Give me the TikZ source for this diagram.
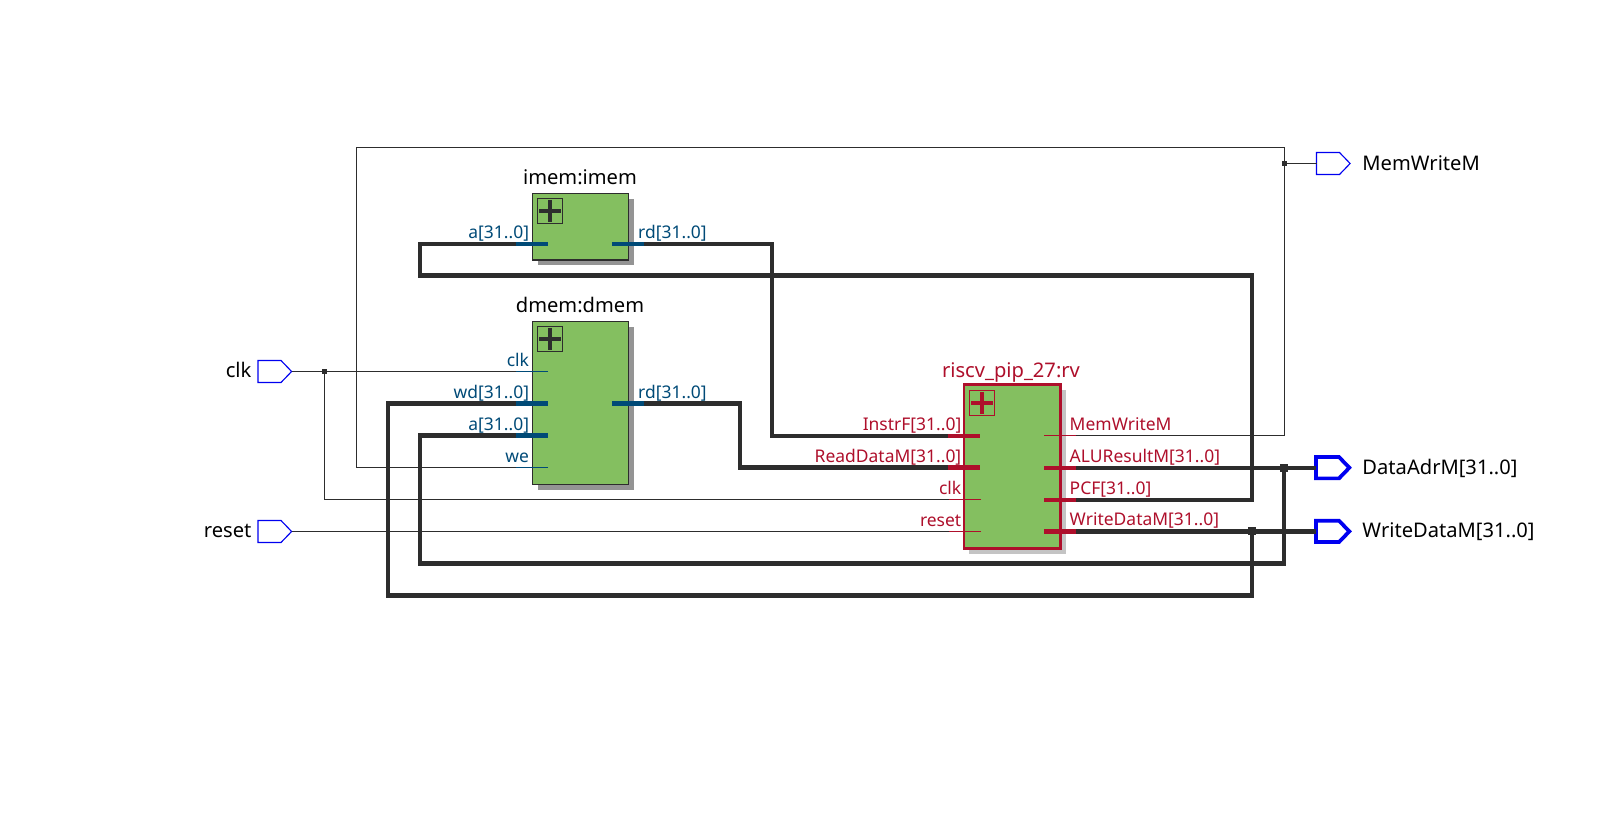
\documentclass[tikz,border=0pt]{standalone}
\usepackage{fontspec}
\setmainfont{Noto Sans}
\usetikzlibrary{shapes.symbols,shadows}
\definecolor{wirecol}{HTML}{2D2D2D}
\definecolor{portblue}{HTML}{004A77}
\definecolor{portred}{HTML}{AE0F2B}
\definecolor{blockgreen}{HTML}{84BF60}
\definecolor{pinblue}{HTML}{0000F0}
\tikzset{
  thinwire/.style={draw=wirecol,line width=0.75pt,line join=miter},
  buswire/.style={draw=wirecol,line width=3.2pt,line join=miter},
  junction/.style={fill=wirecol,draw=none,minimum size=3.8pt,inner sep=0pt,outer sep=0pt,shape=rectangle},
  busjunction/.style={junction,minimum size=6pt},
  block/.style={shape=rectangle,fill=blockgreen,inner sep=0pt,outer sep=0pt},
  memblock/.style={block,draw=wirecol,line width=0.8pt,general shadow={fill=black!42,draw=none,shadow xshift=4.1pt,shadow yshift=-4.1pt}},
  cpublock/.style={block,draw=portred,line width=1.9pt,general shadow={fill=black!23,draw=none,shadow xshift=4.1pt,shadow yshift=-4.1pt}},
  expander/.style={shape=rectangle,draw=#1,line width=0.7pt,minimum size=19pt,inner sep=0pt,outer sep=0pt,
    path picture={
      \draw[#1,line width=3pt] ([xshift=1.3pt]path picture bounding box.west) -- ([xshift=-1.3pt]path picture bounding box.east);
      \draw[#1,line width=3pt] ([yshift=-1.3pt]path picture bounding box.north) -- ([yshift=1.3pt]path picture bounding box.south);
    }},
  pinbase/.style={shape=signal,signal to=east,signal from=nowhere,signal pointer angle=92,
    minimum width=25.2pt,minimum height=16.5pt,inner sep=0pt,outer sep=0pt,draw=pinblue},
  thinpin/.style={pinbase,line width=0.85pt},
  buspin/.style={pinbase,line width=2.8pt,minimum width=25pt,minimum height=16pt},
  portbus/.style={line width=3.2pt},
  portthin/.style={line width=0.75pt},
  title/.style={anchor=base,font=\fontsize{15.1pt}{18pt}\selectfont,inner sep=0pt,text=#1,yshift=-0.7pt},
  title/.default=black,
  pinlabel/.style={font=\fontsize{15.1pt}{18pt}\selectfont,inner sep=0pt,text=black,yshift=-0.7pt},
  leftlabel/.style={anchor=base east,font=\fontsize{13.1pt}{16pt}\selectfont,inner sep=0pt,text=#1,yshift=-0.7pt,xshift=0.6pt},
  rightlabel/.style={anchor=base west,font=\fontsize{13.1pt}{16pt}\selectfont,inner sep=0pt,text=#1,yshift=-0.7pt,xshift=-0.4pt},
}
\begin{document}
\begin{tikzpicture}[x=0.75pt,y=-0.75pt]
\useasboundingbox (0,-0.2) rectangle (1605,834.8);

% port end points on the block boundaries
\coordinate (imemA) at (516,243.5);
\coordinate (imemRd) at (644,243.5);
\coordinate (dmemClk) at (548,371.3);
\coordinate (dmemWd) at (516,403.2);
\coordinate (dmemA) at (516,435.2);
\coordinate (dmemWe) at (548,467.3);
\coordinate (dmemRd) at (644,403.2);
\coordinate (cpuInstr) at (948,435.5);
\coordinate (cpuRead) at (948,467.2);
\coordinate (cpuClk) at (981,499.3);
\coordinate (cpuReset) at (981,531.3);
\coordinate (cpuMem) at (1076,435.3);
\coordinate (cpuAlu) at (1076,467.5);
\coordinate (cpuPc) at (1076,499.8);
\coordinate (cpuWrite) at (1076,531.2);

% top-level input and output pins
\node[thinpin] (pinClk) at (269.5,371.3) {};
\node[thinpin] (pinReset) at (269.5,531.3) {};
\node[thinpin] (pinMem) at (1328,163.3) {};
\node[buspin] (pinAdr) at (1327.5,467.5) {};
\node[buspin] (pinWrite) at (1327.5,531.2) {};

% junction dots
\node[junction] (jClk) at (324.5,371.3) {};
\node[junction] (jMem) at (1284.5,163.3) {};
\node[busjunction] (jAdr) at (1284,467.5) {};
\node[busjunction] (jWrite) at (1252,531.2) {};

% single-bit nets
\draw[thinwire] (pinClk.east) -- (dmemClk);
\draw[thinwire] (jClk) |- (cpuClk);
\draw[thinwire] (pinReset.east) -- (cpuReset);
\draw[thinwire] (cpuMem) -| (1284.5,147.3) -| (356.5,467.3) -- (dmemWe);
\draw[thinwire] (jMem) -- (pinMem.west);

% bus nets, drawn beneath the blocks
\draw[buswire] (imemRd) -| (772,435.5) -- (cpuInstr);
\draw[buswire] (cpuPc) -| (1252,275.2) -| (420,243.5) -- (imemA);
\draw[buswire] (dmemRd) -| (740,467.2) -- (cpuRead);
\draw[buswire] (cpuAlu) -- (pinAdr.west);
\draw[buswire] (jAdr) |- (420,563.2) |- (dmemA);
\draw[buswire] (cpuWrite) -- (pinWrite.west);
\draw[buswire] (jWrite) |- (388,595.2) |- (dmemWd);

% memory blocks
\node[memblock,minimum width=72.3pt,minimum height=50.2pt] (imem) at (580.5,226.3) {};
\node[expander=wirecol] (imemPlus) at (550,210.5) {};
\node[title] (imemTitle) at (580,183.7) {imem:imem};
\node[memblock,minimum width=72.3pt,minimum height=122pt] (dmem) at (580.5,402.5) {};
\node[expander=wirecol] (dmemPlus) at (550,338.5) {};
\node[title] (dmemTitle) at (580,311.7) {dmem:dmem};

% processor block
\node[cpublock,minimum width=72.5pt,minimum height=122.8pt] (cpu) at (1012.3,466.3) {};
\node[expander=portred] (cpuPlus) at (982,402.5) {};
\node[title=portred] (cpuTitle) at (1011,376) {riscv\_pip\_27:rv};

% port stubs
\draw[portblue,portbus] (imemA) -- ++(32,0);
\draw[portblue,portbus] (imemRd) -- ++(-32,0);
\draw[portblue,portthin] (dmemClk) -- ++(-32,0);
\draw[portblue,portbus] (dmemWd) -- ++(32,0);
\draw[portblue,portbus] (dmemA) -- ++(32,0);
\draw[portblue,portthin] (dmemWe) -- ++(-32,0);
\draw[portblue,portbus] (dmemRd) -- ++(-32,0);
\draw[portred,portbus] (cpuInstr) -- ++(32,0);
\draw[portred,portbus] (cpuRead) -- ++(32,0);
\draw[portred,line width=1.3pt] (cpuClk) -- ++(-32,0);
\draw[portred,line width=1.3pt] (cpuReset) -- ++(-32,0);
\draw[portred,line width=1.3pt] (cpuMem) -- ++(-32,0);
\draw[portred,portbus] (cpuAlu) -- ++(-32,0);
\draw[portred,portbus] (cpuPc) -- ++(-32,0);
\draw[portred,portbus] (cpuWrite) -- ++(-32,0);

% port labels
\node[leftlabel=portblue] (lImemA) at (528.5,237.3) {a[31..0]};
\node[rightlabel=portblue] (lImemRd) at (638.5,237.3) {rd[31..0]};
\node[leftlabel=portblue] (lDmemClk) at (528.5,365) {clk};
\node[leftlabel=portblue] (lDmemWd) at (528.5,397.3) {wd[31..0]};
\node[leftlabel=portblue] (lDmemA) at (528.5,429.3) {a[31..0]};
\node[leftlabel=portblue] (lDmemWe) at (528.5,461) {we};
\node[rightlabel=portblue] (lDmemRd) at (638.5,397.3) {rd[31..0]};
\node[leftlabel=portred] (lInstr) at (960.7,429.3) {InstrF[31..0]};
\node[leftlabel=portred] (lRead) at (960.7,461) {ReadDataM[31..0]};
\node[leftlabel=portred] (lClk) at (960.7,493.3) {clk};
\node[leftlabel=portred] (lReset) at (960.7,525) {reset};
\node[rightlabel=portred] (lMem) at (1070,429.3) {MemWriteM};
\node[rightlabel=portred] (lAlu) at (1070,461) {ALUResultM[31..0]};
\node[rightlabel=portred] (lPc) at (1070,493) {PCF[31..0]};
\node[rightlabel=portred] (lWrite) at (1070,524.5) {WriteDataM[31..0]};

% pin names
\node[pinlabel,anchor=base east] (tClk) at (251.7,376.7) {clk};
\node[pinlabel,anchor=base east] (tReset) at (251.7,536.7) {reset};
\node[pinlabel,anchor=base west] (tMem) at (1362.2,169) {MemWriteM};
\node[pinlabel,anchor=base west] (tAdr) at (1362.2,473) {DataAdrM[31..0]};
\node[pinlabel,anchor=base west] (tWrite) at (1362.2,536.7) {WriteDataM[31..0]};
\end{tikzpicture}
\end{document}
